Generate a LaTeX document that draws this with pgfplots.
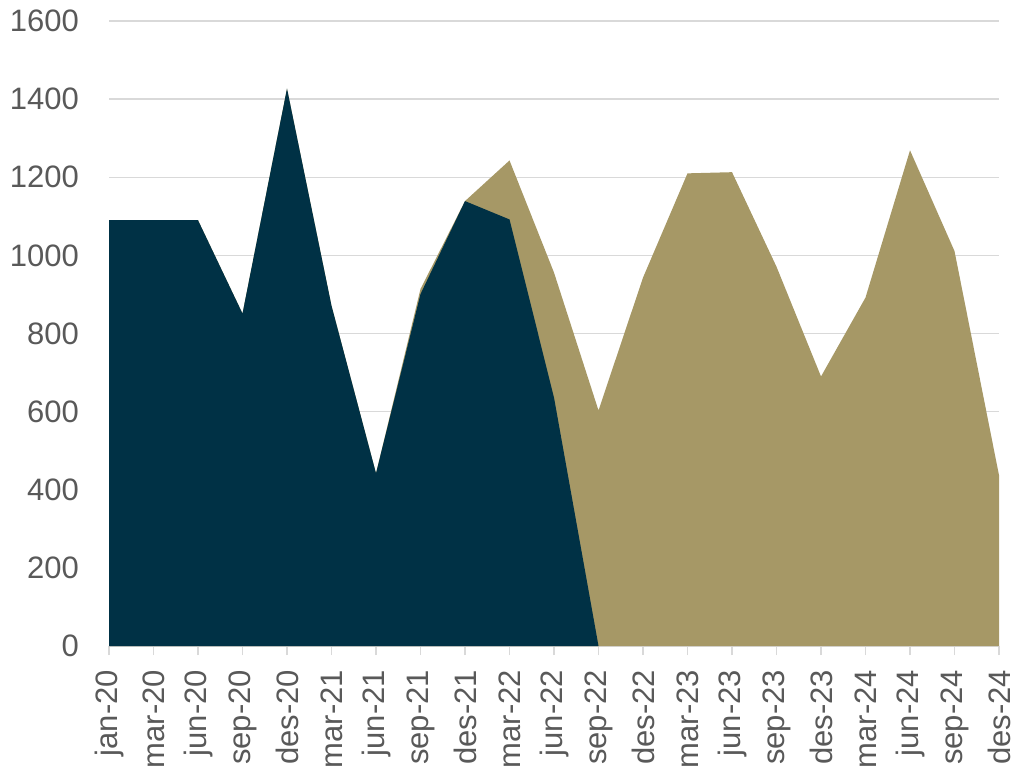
\documentclass[border=0pt]{standalone}
\usepackage{pgfplots}
\pgfplotsset{compat=1.18}
\usepackage{fontspec}
\setmainfont{Liberation Sans}

\definecolor{navy}{RGB}{0,49,69}
\definecolor{khaki}{RGB}{166,152,102}
\definecolor{gridgray}{RGB}{217,217,217}
\definecolor{labelgray}{RGB}{89,89,89}

\begin{document}
\begin{tikzpicture}
\begin{axis}[
    scale only axis,
    width=445pt, height=312.5pt,
    xmin=0, xmax=20,
    ymin=0, ymax=1600,
    enlargelimits=false,
    axis x line*=bottom,
    axis y line*=left,
    y axis line style={draw=none},
    x axis line style={draw=gridgray, line width=1pt},
    xtick={0,...,20},
    xticklabels={jan-20,mar-20,jun-20,sep-20,des-20,mar-21,jun-21,sep-21,des-21,mar-22,jun-22,sep-22,des-22,mar-23,jun-23,sep-23,des-23,mar-24,jun-24,sep-24,des-24},
    ytick={0,200,...,1600},
    tick align=outside,
    major tick length=4.5pt,
    xtick style={draw=gridgray, line width=0.75pt},
    ytick style={draw=none},
    ymajorgrids,
    grid style={draw=gridgray, line width=0.75pt},
    tick label style={font=\fontsize{15.5}{18}\selectfont, text=labelgray},
    xticklabel style={rotate=90, anchor=east},
    xticklabel shift=4pt,
    yticklabel style={anchor=east, xshift=-7pt},
    /pgf/number format/assume math mode=true,
    /pgf/number format/1000 sep={},
]
\coordinate (O) at (rel axis cs:0,0);
\addplot[fill=khaki, draw=none] coordinates {
(0,1090) (1,1090) (2,1090) (3,851) (4,1427) (5,871) (6,442) (7,914) (8,1139) (9,1243)
(10,956) (11,603) (12,943) (13,1210) (14,1213) (15,971) (16,690) (17,892) (18,1269) (19,1011) (20,437)
} \closedcycle;
\addplot[fill=navy, draw=none] coordinates {
(0,1090) (1,1090) (2,1090) (3,851) (4,1427) (5,871) (6,442) (7,901) (8,1139) (9,1092)
(10,636) (11,0)
} \closedcycle;
\end{axis}
\pgfresetboundingbox
\path[use as bounding box] ([shift={(-54.5pt,-61pt)}]O) rectangle ([shift={(453pt,323pt)}]O);
\end{tikzpicture}
\end{document}
